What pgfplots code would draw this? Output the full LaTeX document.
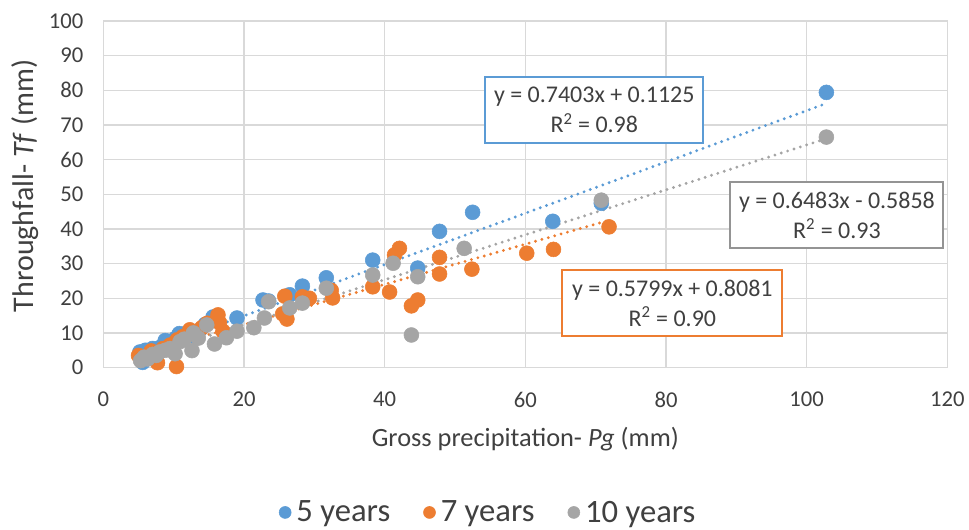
\documentclass[border=0pt]{standalone}
\usepackage{fontspec}
\setmainfont{Carlito}
\usepackage{pgfplots}
\pgfplotsset{compat=1.18}
\definecolor{c5}{HTML}{5B9BD5}
\definecolor{c7}{HTML}{ED7D31}
\definecolor{c10}{HTML}{A5A5A5}
\definecolor{gridc}{HTML}{D9D9D9}
\definecolor{txt}{HTML}{404040}
\begin{document}
\begin{tikzpicture}
\begin{axis}[
scale only axis,
width=633.75pt,
height=260.25pt,
xmin=0, xmax=120,
ymin=0, ymax=100,
xtick distance=20,
ytick distance=10,
grid=major,
major grid style={gridc, line width=0.9pt},
axis line style={gridc, line width=0.9pt},
major tick length=0pt,
/pgf/number format/assume math mode=true,
tick label style={font=\fontsize{17}{20}\selectfont, text=txt},
xticklabel style={yshift=-15pt},
yticklabel style={xshift=-11.5pt},
xlabel={Gross precipitation- \textit{Pg} (mm)},
ylabel={Throughfall- \textit{Tf} (mm)},
xlabel style={font=\fontsize{19.8}{22}\selectfont, text=txt,
  at={(axis description cs:0.5,-0.205)}, anchor=center},
ylabel style={font=\fontsize{22.5}{26}\selectfont, text=txt,
  at={(axis description cs:-0.0929,0.524)}, anchor=center},
clip=false,
legend columns=3,
legend style={at={(axis description cs:0.4565,-0.418)}, anchor=center, draw=none,
  font=\fontsize{24.5}{28}\selectfont, text=txt,
  /tikz/every odd column/.append style={column sep=2pt},
  /tikz/every even column/.append style={column sep=23pt}},
legend image code/.code={\draw[#1, mark size=4.5pt] plot coordinates {(0cm,0cm)};},
]
\addplot[only marks, mark=*, mark size=5.6pt, color=c5, mark options={draw=c5, fill=c5}] coordinates {
(5.2,4.5) (5.6,1.5) (6.0,5.0) (6.5,4.2) (7.0,5.5) (7.5,5.2) (8.2,6.0) (8.8,7.8)
(9.5,7.0) (10.3,8.5) (10.8,9.8) (11.5,9.0) (12.0,10.2) (13.0,9.0) (13.8,11.0)
(14.5,12.5) (15.6,14.6) (16.0,13.5) (19.0,14.3) (22.7,19.5) (23.5,19.2) (26.5,21.0)
(28.3,23.5) (31.7,25.9) (38.3,31.0) (44.7,28.7) (47.8,39.3) (52.5,44.8) (63.9,42.2)
(70.8,47.4) (102.8,79.4)
};
\addlegendentry{5 years}
\addplot[only marks, mark=*, mark size=5.6pt, color=c7, mark options={draw=c7, fill=c7}] coordinates {
(5.0,3.5) (5.5,2.5) (6.2,3.0) (6.8,4.8) (7.7,1.4) (8.5,5.5) (9.5,6.5) (10.4,0.3)
(10.5,8.0) (11.3,8.9) (12.3,10.9) (13.0,10.0) (14.0,11.5) (14.8,12.8) (16.3,15.2)
(16.5,13.0) (17.0,10.5) (25.5,15.5) (25.8,20.6) (26.1,14.0) (28.3,20.4) (29.3,20.0)
(32.4,22.3) (32.6,20.1) (38.3,23.3) (40.7,21.8) (41.4,32.5) (42.1,34.4) (43.8,17.8)
(44.7,19.5) (47.8,31.8) (47.8,27.0) (52.4,28.4) (60.2,33.0) (64.0,34.1) (71.9,40.6)
};
\addlegendentry{7 years}
\addplot[only marks, mark=*, mark size=5.6pt, color=c10, mark options={draw=c10, fill=c10}] coordinates {
(5.3,2.0) (5.8,3.0) (6.3,2.5) (7.0,3.8) (7.5,3.5) (8.0,4.5) (8.8,5.0) (9.5,5.5)
(10.2,4.0) (10.9,7.5) (11.5,8.2) (12.6,4.9) (12.8,10.0) (13.5,8.5) (14.7,12.3)
(15.8,6.8) (17.5,8.6) (19.0,10.5) (21.4,11.5) (22.9,14.3) (23.5,19.0) (26.5,17.2)
(28.3,18.6) (31.7,22.9) (38.3,26.7) (41.2,30.1) (43.8,9.4) (44.7,26.2) (51.3,34.4)
(70.8,48.3) (102.8,66.5)
};
\addlegendentry{10 years}
% linear trendlines (Excel equations, over each series' x range)
\addplot[forget plot, c5, line width=2.4pt, line cap=round, dash pattern=on 0pt off 5pt] coordinates {(5.2,3.96) (102.8,76.22)};
\addplot[forget plot, c7, line width=2.4pt, line cap=round, dash pattern=on 0pt off 5pt] coordinates {(5.0,3.71) (71.9,42.50)};
\addplot[forget plot, c10, line width=2.4pt, line cap=round, dash pattern=on 0pt off 5pt] coordinates {(5.3,2.85) (102.8,66.06)};
\node[draw=c5, line width=1.5pt, fill=white, align=center, text=txt,
  font=\fontsize{18}{22.5}\selectfont, minimum width=163.5pt, minimum height=50pt]
  at (axis cs:69.8,74.3) {y = 0.7403x + 0.1125\\R\textsuperscript{2} = 0.98};
\node[draw=c10!90!black, line width=1.5pt, fill=white, align=center, text=txt,
  font=\fontsize{18}{22.5}\selectfont, minimum width=160pt, minimum height=50pt]
  at (axis cs:104.3,44.0) {y = 0.6483x - 0.5858\\R\textsuperscript{2} = 0.93};
\node[draw=c7, line width=1.5pt, fill=white, align=center, text=txt,
  font=\fontsize{18}{22.5}\selectfont, minimum width=165pt, minimum height=50pt]
  at (axis cs:80.9,18.6) {y = 0.5799x + 0.8081\\R\textsuperscript{2} = 0.90};
\end{axis}
\path (current axis.south west) ++(-77.6pt,-120.75pt) rectangle ++(726.75pt,396.75pt);
\end{tikzpicture}
\end{document}
